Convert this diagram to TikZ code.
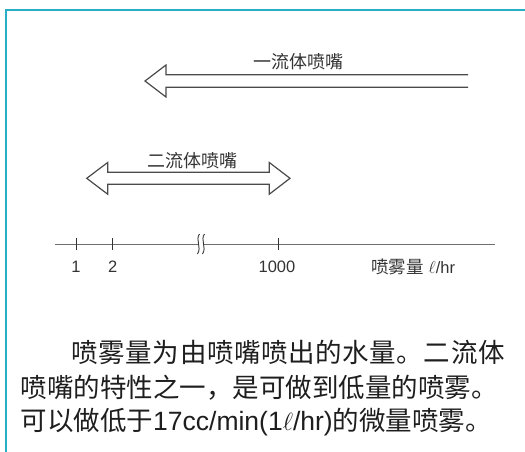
\documentclass[tikz,border=0pt]{standalone}
\usepackage{fontspec}
\setmainfont{Liberation Sans}
\newfontfamily\cjk{Noto Sans CJK SC}
\definecolor{framecol}{HTML}{2AADC8}
\definecolor{arrcol}{HTML}{4A4A4A}
\definecolor{axiscol}{HTML}{6E6E6E}
\definecolor{labcol}{HTML}{333333}
\definecolor{txtcol}{HTML}{1E1E1E}
\tikzset{
  frameline/.style={draw=framecol, line width=2.2pt},
  bigarrow/.style={draw=arrcol, line width=1.2pt, line join=miter},
  axisline/.style={draw=axiscol, line width=1.5pt},
  tickline/.style={draw=labcol, line width=1pt},
  wavy/.style={draw=labcol, line width=0.9pt},
  smalllab/.style={inner sep=0pt, text=labcol, font=\fontsize{16.5}{18}\selectfont},
  arrlab/.style={inner sep=0pt, text=labcol, font=\cjk\fontsize{18}{20}\selectfont},
  bodyline/.style={inner sep=0pt, anchor=west, text=txtcol, font=\cjk\fontsize{26.5}{30}\selectfont},
}
\begin{document}
\begin{tikzpicture}[x=1pt,y=-1pt]
\useasboundingbox (0,0) rectangle (525,451);
% frame
\draw[frameline] (526,10) -- (6,10) -- (6,452);
% one-fluid arrow (left pointing, open at right)
\draw[bigarrow] (468,74.7) -- (166,74.7) -- (166,65) -- (145,81) -- (166,97) -- (166,87.3) -- (468,87.3);
\node[arrlab] (one) at (298,62) {一流体喷嘴};
% two-fluid double arrow
\draw[bigarrow] (86.7,178.3) -- (107.7,162.5) -- (107.7,172.3) -- (269.3,172.3) -- (269.3,162.5)
  -- (290,178.3) -- (269.3,194.2) -- (269.3,184.3) -- (107.7,184.3) -- (107.7,194.2) -- cycle;
\node[arrlab] (two) at (192,160.5) {二流体喷嘴};
% axis
\draw[axisline] (55,244.3) -- (198.5,244.3);
\draw[axisline] (203.5,244.3) -- (495,244.3);
\draw[tickline] (76,238.3) -- (76,250.3);
\draw[tickline] (112.7,238.3) -- (112.7,250.3);
\draw[tickline] (278.3,238.3) -- (278.3,250.3);
\draw[wavy] (199.5,234) .. controls (195,240) and (202,247) .. (197.5,254);
\draw[wavy] (204.5,234) .. controls (200,240) and (207,247) .. (202.5,254);
\node[smalllab] (l1) at (76,266.7) {1};
\node[smalllab] (l2) at (112.7,266.7) {2};
\node[smalllab] (l1000) at (277,266.7) {1000};
\node[smalllab, anchor=west] (unit) at (371,266.7) {{\cjk\fontsize{17.5}{18}\selectfont 喷雾量}\hspace{5pt}$\ell$/hr};
% paragraph
\node[bodyline] (p1) at (71.5,352) {\makebox[433pt][s]{喷\hfil 雾\hfil 量\hfil 为\hfil 由\hfil 喷\hfil 嘴\hfil 喷\hfil 出\hfil 的\hfil 水\hfil 量\hfil 。\hfil 二\hfil 流\hfil 体}};
\node[bodyline] (p2) at (20.5,387.5) {喷嘴的特性之一，是可做到低量的喷雾。};
\node[bodyline] (p3) at (20.5,422) {可以做低于{\fontspec{Liberation Sans}17cc/min(1$\ell$/hr)}的微量喷雾。};
\end{tikzpicture}
\end{document}
